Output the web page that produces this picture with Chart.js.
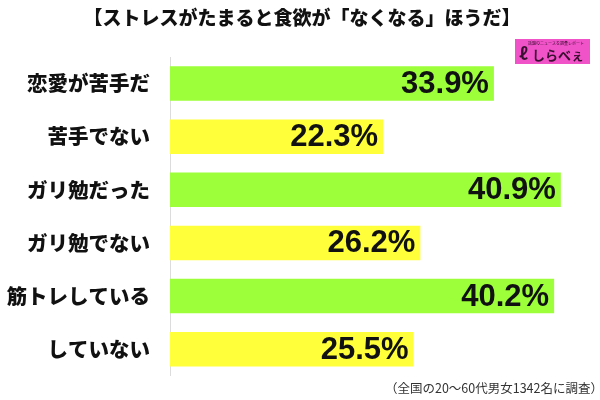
<!DOCTYPE html>
<html>
<head>
<meta charset="utf-8">
<script src="https://cdn.jsdelivr.net/npm/chart.js@4"></script>
<style>
  html, body { margin: 0; padding: 0; background: #fff; }
  #wrap { width: 600px; height: 400px; }
</style>
</head>
<body>
<div id="wrap"><canvas id="stressChart" width="600" height="400"></canvas></div>
<script>
const categories = ['恋愛が苦手だ', '苦手でない', 'ガリ勉だった', 'ガリ勉でない', '筋トレしている', 'していない'];
const values = [33.9, 22.3, 40.9, 26.2, 40.2, 25.5];
const barColors = ['#9cff3a', '#ffff3a', '#9cff3a', '#ffff3a', '#9cff3a', '#ffff3a'];
const titleText = '【ストレスがたまると食欲が「なくなる」ほうだ】';
const noteText = '（全国の20～60代男女1342名に調査）';

const jpFont = '"Noto Sans CJK JP", "Noto Sans", sans-serif';

const decorations = {
    id: 'decorations',
    afterDatasetsDraw(chart) {
        const ctx = chart.ctx;
        const meta = chart.getDatasetMeta(0);
        ctx.save();

        // value labels inside the bar ends
        ctx.fillStyle = '#111';
        ctx.font = 'bold 31px "Liberation Sans", Arial, sans-serif';
        ctx.textAlign = 'right';
        ctx.textBaseline = 'middle';
        meta.data.forEach((bar, i) => {
            ctx.fillText(values[i].toFixed(1) + '%', bar.x - 5, bar.y + 1);
        });

        // title
        ctx.font = '900 19px ' + jpFont;
        ctx.textAlign = 'center';
        ctx.fillStyle = '#111';
        ctx.fillText(titleText, 302, 18);

        // footnote
        ctx.font = '12.5px ' + jpFont;
        ctx.textAlign = 'right';
        ctx.fillStyle = '#333';
        ctx.fillText(noteText, 603, 388);

        // logo
        ctx.fillStyle = '#f052c8';
        ctx.fillRect(515, 39, 75, 25);
        ctx.fillStyle = '#3a1030';
        ctx.font = '4px ' + jpFont;
        ctx.textAlign = 'center';
        ctx.fillText('話題のニュースを調査レポート', 556, 43);
        ctx.font = 'bold 17px ' + jpFont;
        ctx.textAlign = 'left';
        ctx.fillText('ℓ', 519, 54);
        ctx.font = 'bold 13px ' + jpFont;
        ctx.fillText('しらべぇ', 532, 55);
        ctx.restore();
    }
};

const ctx1 = document.getElementById('stressChart').getContext('2d');
const stressChart = new Chart(ctx1, {
    type: 'bar',
    data: {
        labels: categories,
        datasets: [{
            data: values,
            backgroundColor: barColors,
            borderWidth: 0,
            barPercentage: 0.65,
            categoryPercentage: 1
        }]
    },
    options: {
        indexAxis: 'y',
        responsive: false,
        animation: false,
        layout: {
            padding: { top: 57, bottom: 10, left: 0, right: 0 }
        },
        plugins: {
            legend: { display: false },
            tooltip: { enabled: false }
        },
        scales: {
            x: {
                display: false,
                min: 0,
                max: 45
            },
            y: {
                grid: { display: false },
                border: { display: true, color: '#dcdcdc', width: 1 },
                afterFit: (scale) => { scale.width = 170; },
                ticks: {
                    color: '#111',
                    padding: 12,
                    font: { family: jpFont, size: 20.5, weight: '900' }
                }
            }
        }
    },
    plugins: [decorations]
});
</script>
</body>
</html>
